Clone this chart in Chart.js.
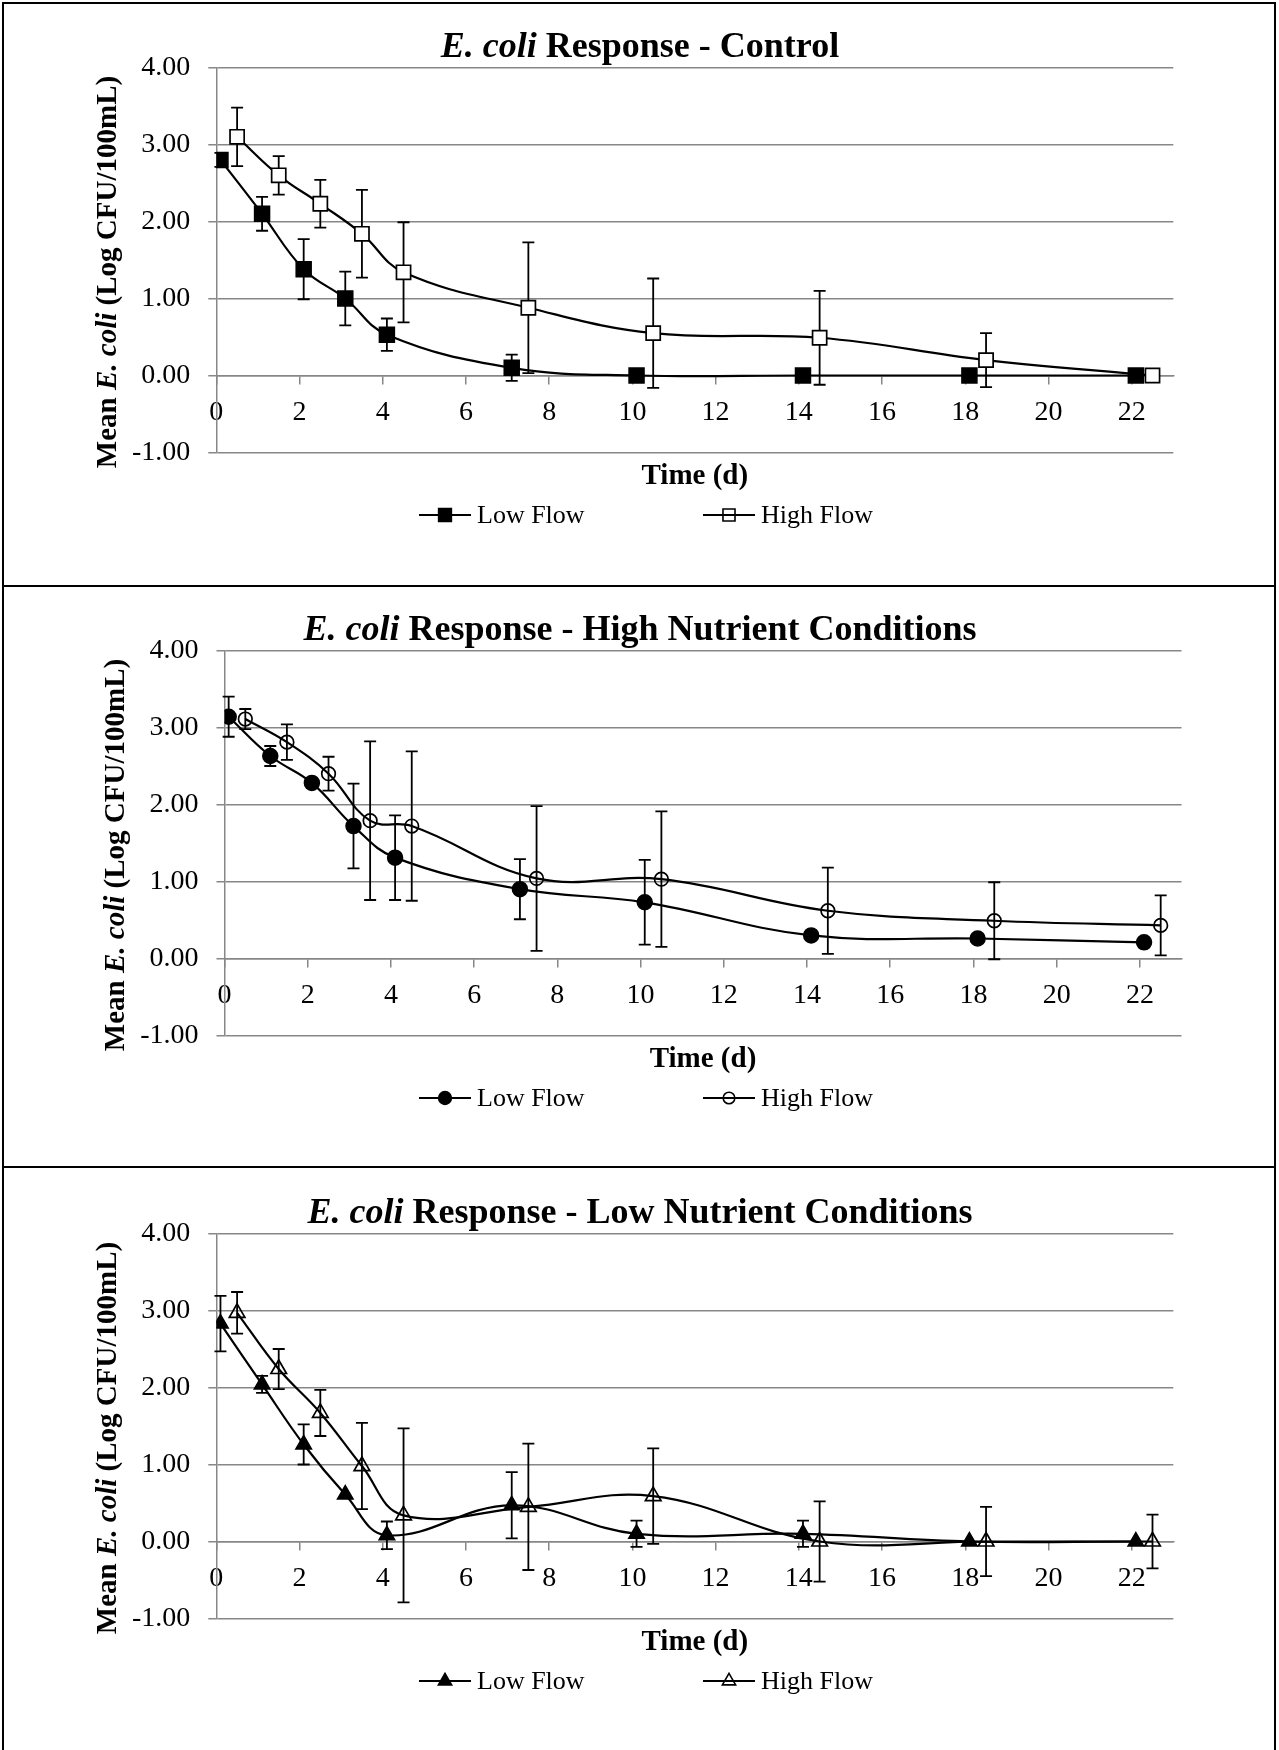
<!DOCTYPE html>
<html>
<head>
<meta charset="utf-8">
<script src="https://cdn.jsdelivr.net/npm/chart.js@4.4.1/dist/chart.umd.min.js"></script>
<style>
  html, body { margin: 0; padding: 0; background: #fff; }
  body { width: 1279px; height: 1750px; position: relative; overflow: hidden; }
  .box { position: absolute; left: 2px; width: 1274px; border: 2px solid #000; box-sizing: border-box; }
  canvas { position: absolute; left: 0; }
</style>
</head>
<body>
<div class="box" style="top:2px;height:585px"></div>
<div class="box" style="top:585px;height:583px"></div>
<div class="box" style="top:1166px;height:600px"></div>
<canvas id="c1" width="1279" height="583" style="top:0"></canvas>
<canvas id="c2" width="1279" height="583" style="top:583px"></canvas>
<canvas id="c3" width="1279" height="583" style="top:1166px"></canvas>
<script>
// sampling days (low flow / high flow points are offset slightly)
const daysLow  = [0.1, 1.1, 2.1, 3.1, 4.1, 7.1, 10.1, 14.1, 18.1, 22.1];
const daysHigh = [0.5, 1.5, 2.5, 3.5, 4.5, 7.5, 10.5, 14.5, 18.5, 22.5];
const xTickValues = [0, 2, 4, 6, 8, 10, 12, 14, 16, 18, 20, 22];
const yTickValues = [-1, 0, 1, 2, 3, 4];
const seriesNames = ['Low Flow', 'High Flow'];

// Control
const controlLow     = [2.80, 2.10, 1.38, 1.00, 0.53, 0.10, 0.00, 0.00, 0.00, 0.00];
const controlLowErr  = [0.09, 0.22, 0.39, 0.35, 0.21, 0.17, 0, 0, 0, 0];
const controlHigh    = [3.10, 2.60, 2.23, 1.84, 1.34, 0.88, 0.55, 0.49, 0.20, 0.00];
const controlHighErr = [0.38, 0.25, 0.31, 0.57, 0.65, 0.85, 0.71, 0.61, 0.35, 0];

// High nutrient
const highNutLow     = [3.14, 2.63, 2.28, 1.72, 1.31, 0.90, 0.73, 0.30, 0.26, 0.21];
const highNutLowErr  = [0.26, 0.13, 0, 0.55, 0.55, 0.39, 0.55, 0, 0, 0];
const highNutHigh    = [3.11, 2.81, 2.40, 1.79, 1.72, 1.04, 1.03, 0.62, 0.49, 0.43];
const highNutHighErr = [0.13, 0.23, 0.22, 1.03, 0.97, 0.94, 0.88, 0.56, 0.50, 0.39];

// Low nutrient
const lowNutLow      = [2.83, 2.04, 1.26, 0.61, 0.08, 0.47, 0.10, 0.10, 0.00, 0.00];
const lowNutLowErr   = [0.36, 0.11, 0.26, 0, 0.18, 0.43, 0.17, 0.17, 0, 0];
const lowNutHigh     = [2.97, 2.24, 1.67, 0.98, 0.34, 0.45, 0.59, 0.00, 0.00, 0.00];
const lowNutHighErr  = [0.27, 0.26, 0.30, 0.56, 1.13, 0.82, 0.62, 0.52, 0.45, 0.35];

const serif = '"Liberation Serif", "Times New Roman", serif';
const gridColor = '#878787';

const panels = [
  { id: 'c1', condition: 'Control', low: controlLow, lowErr: controlLowErr, high: controlHigh, highErr: controlHighErr,
    marker: 'rect', lowR: 10.6, highR: 10, highFill: '#fff', plotLeft: 216.3 },
  { id: 'c2', condition: 'High Nutrient Conditions', low: highNutLow, lowErr: highNutLowErr, high: highNutHigh, highErr: highNutHighErr,
    marker: 'circle', lowR: 7.5, highR: 6.8, highFill: 'rgba(0,0,0,0)', plotLeft: 224.5 },
  { id: 'c3', condition: 'Low Nutrient Conditions', low: lowNutLow, lowErr: lowNutLowErr, high: lowNutHigh, highErr: lowNutHighErr,
    marker: 'triangle', lowR: 9, highR: 9, highFill: 'rgba(0,0,0,0)', plotLeft: 216.3 }
];

function drawMixed(ctx, parts, x, y) {
  let total = 0;
  parts.forEach(p => { ctx.font = p.font; p.w = ctx.measureText(p.text).width; total += p.w; });
  let cx = x - total / 2;
  ctx.textAlign = 'left';
  parts.forEach(p => { ctx.font = p.font; ctx.fillText(p.text, cx, y); cx += p.w; });
}

function drawMarker(ctx, style, r, x, y, fill) {
  ctx.beginPath();
  if (style === 'rect') {
    const s = r * Math.SQRT1_2;
    ctx.rect(x - s, y - s, 2 * s, 2 * s);
  } else if (style === 'circle') {
    ctx.arc(x, y, r, 0, Math.PI * 2);
  } else {
    ctx.moveTo(x, y - r);
    ctx.lineTo(x + r * Math.sin(2 * Math.PI / 3), y - r * Math.cos(2 * Math.PI / 3));
    ctx.lineTo(x + r * Math.sin(4 * Math.PI / 3), y - r * Math.cos(4 * Math.PI / 3));
    ctx.closePath();
  }
  ctx.fillStyle = fill;
  ctx.fill();
  ctx.stroke();
}

function makeDecor(p) {
  return {
    id: 'decor',
    // error bars go under the lines and markers
    beforeDatasetsDraw(chart) {
      const ctx = chart.ctx, xs = chart.scales.x, ys = chart.scales.y;
      ctx.save();
      ctx.strokeStyle = '#000';
      ctx.lineWidth = 1.8;
      chart.data.datasets.forEach(ds => {
        ds.errorBars.forEach((e, j) => {
          if (!e) return;
          const pt = ds.data[j];
          const x = xs.getPixelForValue(pt.x);
          const yT = ys.getPixelForValue(pt.y + e);
          const yB = ys.getPixelForValue(pt.y - e);
          ctx.beginPath();
          ctx.moveTo(x, yT); ctx.lineTo(x, yB);
          ctx.moveTo(x - 6, yT); ctx.lineTo(x + 6, yT);
          ctx.moveTo(x - 6, yB); ctx.lineTo(x + 6, yB);
          ctx.stroke();
        });
      });
      ctx.restore();
    },
    afterDraw(chart) {
      const ctx = chart.ctx, area = chart.chartArea;
      ctx.save();
      ctx.fillStyle = '#000';
      ctx.textBaseline = 'alphabetic';
      drawMixed(ctx, [
        { text: 'E. coli', font: 'italic bold 36px ' + serif },
        { text: ' Response - ' + p.condition, font: 'bold 36px ' + serif }
      ], 640, 57);

      drawMixed(ctx, [{ text: 'Time (d)', font: 'bold 29px ' + serif }], (area.left + area.right) / 2, 484);

      ctx.save();
      ctx.translate(area.left - 108, 272);
      ctx.rotate(-Math.PI / 2);
      ctx.textBaseline = 'middle';
      drawMixed(ctx, [
        { text: 'Mean ', font: 'bold 29px ' + serif },
        { text: 'E. coli', font: 'italic bold 29px ' + serif },
        { text: ' (Log CFU/100mL)', font: 'bold 29px ' + serif }
      ], 0, 0);
      ctx.restore();

      // legend: line with marker in the middle, then the name
      const legendY = 515;
      const entries = [
        { mx: 445, fill: '#000', r: p.lowR, name: seriesNames[0] },
        { mx: 729, fill: 'rgba(0,0,0,0)', r: p.highR, name: seriesNames[1] }
      ];
      entries.forEach(en => {
        ctx.strokeStyle = '#000';
        ctx.lineWidth = 2;
        ctx.beginPath();
        ctx.moveTo(en.mx - 26, legendY); ctx.lineTo(en.mx + 26, legendY);
        ctx.stroke();
        ctx.lineWidth = 1.6;
        drawMarker(ctx, p.marker, en.r * 0.85, en.mx, legendY, en.fill);
        ctx.fillStyle = '#000';
        ctx.font = '26px ' + serif;
        ctx.textAlign = 'left';
        ctx.textBaseline = 'middle';
        ctx.fillText(en.name, en.mx + 32, legendY + 1);
      });
      ctx.restore();
    }
  };
}

panels.forEach(p => {
  const lowData = daysLow.map((d, i) => ({ x: d, y: p.low[i] }));
  const highData = daysHigh.map((d, i) => ({ x: d, y: p.high[i] }));
  new Chart(document.getElementById(p.id), {
    type: 'line',
    data: {
      datasets: [
        {
          label: seriesNames[0], data: lowData, errorBars: p.lowErr,
          borderColor: '#000', borderWidth: 2.2, tension: 0.4, fill: false,
          pointStyle: p.marker, pointRadius: p.lowR, pointBorderWidth: 1.5,
          pointBackgroundColor: '#000', pointBorderColor: '#000'
        },
        {
          label: seriesNames[1], data: highData, errorBars: p.highErr,
          borderColor: '#000', borderWidth: 2.2, tension: 0.4, fill: false,
          pointStyle: p.marker, pointRadius: p.highR, pointBorderWidth: 1.7,
          pointBackgroundColor: p.highFill, pointBorderColor: '#000'
        }
      ]
    },
    options: {
      responsive: false,
      animation: false,
      devicePixelRatio: 1,
      events: [],
      layout: { padding: { left: p.plotLeft - 120, right: 1279 - (p.plotLeft + 957), top: 67.5, bottom: 130.5 } },
      plugins: { legend: { display: false }, title: { display: false }, tooltip: { enabled: false } },
      scales: {
        x: {
          type: 'linear', min: 0, max: 23,
          position: { y: 0 },
          afterBuildTicks: s => { s.ticks = xTickValues.map(v => ({ value: v })); },
          grid: { drawOnChartArea: false, drawTicks: true, tickLength: 8, color: gridColor, lineWidth: 1.5 },
          border: { display: true, color: gridColor, width: 1.5 },
          ticks: { color: '#000', font: { family: serif, size: 28 }, padding: 12, maxRotation: 0, autoSkip: false }
        },
        y: {
          type: 'linear', min: -1, max: 4,
          afterBuildTicks: s => { s.ticks = yTickValues.map(v => ({ value: v })); },
          afterFit: s => { s.width = 120; },
          grid: { color: gridColor, lineWidth: 1.5, drawTicks: true, tickLength: 8 },
          border: { display: true, color: gridColor, width: 1.5 },
          ticks: { color: '#000', font: { family: serif, size: 28 }, padding: 18, callback: v => Number(v).toFixed(2) }
        }
      }
    },
    plugins: [makeDecor(p)]
  });
});
</script>
</body>
</html>
